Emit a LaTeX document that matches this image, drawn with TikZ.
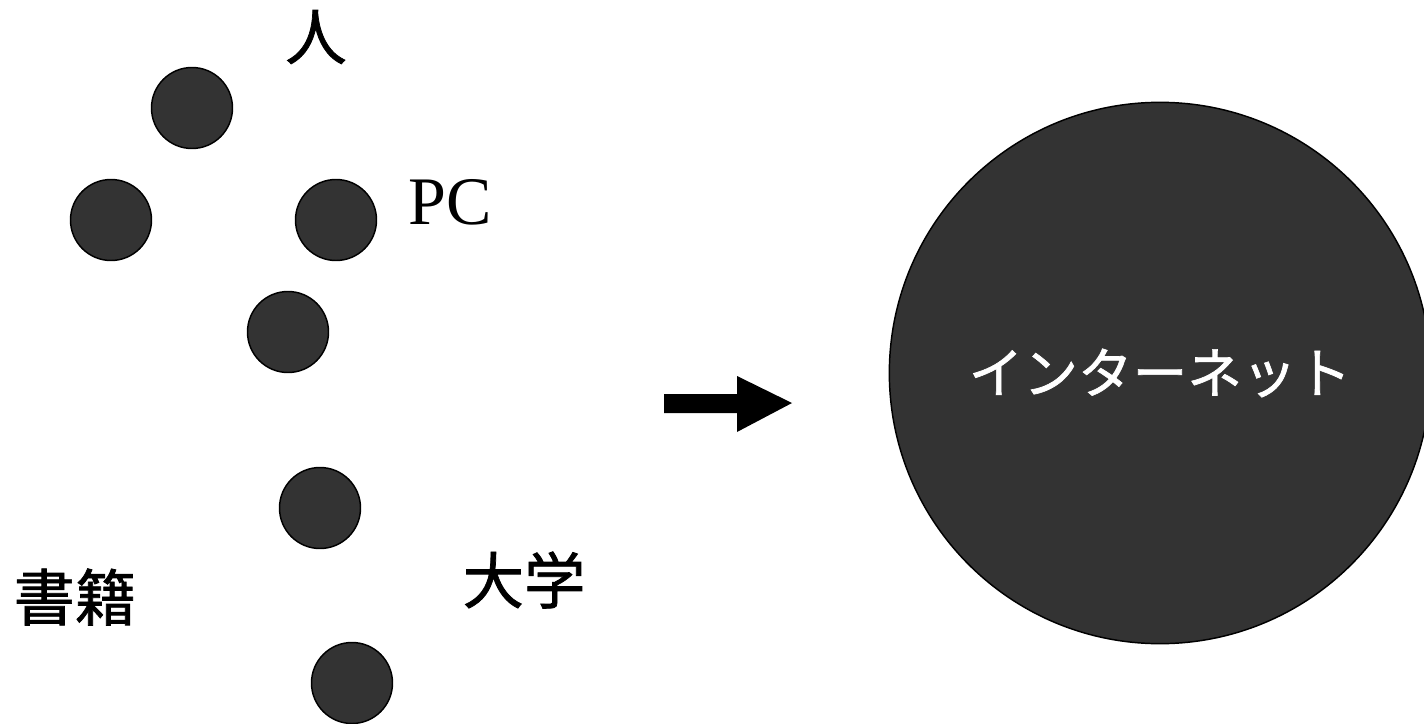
\documentclass[tikz,border=0pt]{standalone}
\usepackage{fontspec}
\setmainfont{Liberation Serif}
\newfontfamily\cjk[FakeBold=1.2]{Noto Sans CJK JP}
\usepackage{tikz}
\definecolor{dotgray}{HTML}{333333}

\begin{document}
\begin{tikzpicture}[x=0.75pt,y=-0.75pt,
  dot/.style={circle,draw=black,line width=1.1pt,fill=dotgray,inner sep=0pt,minimum size=60.75pt},
  lbl/.style={inner sep=0pt,font=\cjk\fontsize{46}{46}\selectfont}]
\useasboundingbox (0,0) rectangle (1424,724);
\node[dot] (d1) at (192,108) {};
\node[dot] (d2) at (111,220) {};
\node[dot] (d3) at (336,220) {};
\node[dot] (d4) at (288,332) {};
\node[dot] (d5) at (320,508) {};
\node[dot] (d6) at (352,683) {};

\node[lbl] (hito) at (316,37) {人};
\node[inner sep=0pt,font=\fontsize{51}{51}\selectfont] (pc) at (450,202) {PC};
\node[lbl] (shoseki) at (75,597) {書籍};
\node[lbl] (daigaku) at (524,580) {大学};

\node[circle,draw=black,line width=1.1pt,fill=dotgray,inner sep=0pt,minimum size=406pt,
  text=white,font=\cjk\fontsize{41}{41}\selectfont] (net) at (1160,373) {インターネット};

\fill (664,394) -- (737,394) -- (737,376) -- (792,403) -- (737,432) -- (737,413) -- (664,413) -- cycle;
\end{tikzpicture}
\end{document}
